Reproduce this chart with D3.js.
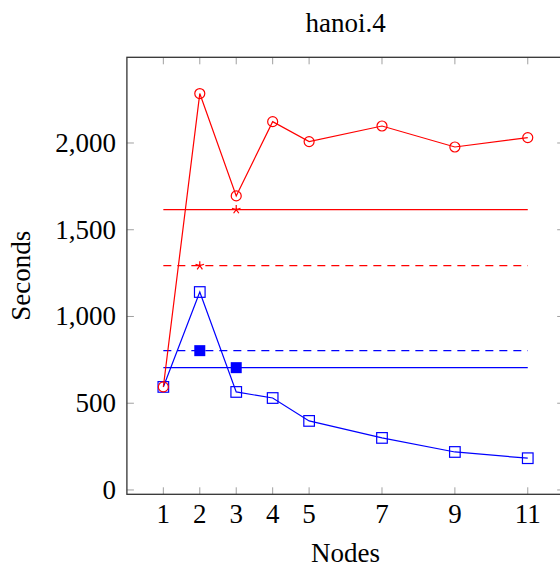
<!DOCTYPE html>
<html>
<head>
<meta charset="utf-8">
<script src="https://cdn.jsdelivr.net/npm/d3@7"></script>
<style>
  body { margin: 0; background: #fff; }
  svg { display: block; font-family: "Liberation Serif", "Times New Roman", serif; }
</style>
</head>
<body>
<div id="chart"></div>
<script>
// values
const nodes = [1, 2, 3, 4, 5, 7, 9, 11];
const redTimes = [594, 2285, 1695, 2123, 2008, 2098, 1977, 2031];
const blueTimes = [594, 1141, 565, 530, 398, 300, 219, 183];
const xTicks = [1, 2, 3, 4, 5, 7, 9, 11];
const yTicks = [0, 500, 1000, 1500, 2000];

// horizontal reference levels, each with one marker
const levels = [
  { value: 1616, color: "red", dashed: false, markX: 3, mark: "star" },
  { value: 1293, color: "red", dashed: true, markX: 2, mark: "star" },
  { value: 803, color: "blue", dashed: true, markX: 2, mark: "filled" },
  { value: 705, color: "blue", dashed: false, markX: 3, mark: "filled" }
];

const width = 560, height = 571;
const plotLeft = 126.9, plotRight = 564.2, plotTop = 57.3, plotBottom = 494.3;

const svg = d3.select("#chart").append("svg")
  .attr("width", width)
  .attr("height", height);

const x = d3.scaleLinear().domain([0, 12]).range([plotLeft, plotRight]);
const y = d3.scaleLinear().domain([-25, 2494]).range([plotBottom, plotTop]);

// ticks (drawn inward on all four sides)
const tickColor = "#a0a0a0";
const tickLen = 7;
const ticks = svg.append("g").attr("stroke", tickColor).attr("stroke-width", 1);
xTicks.forEach(function (t) {
  ticks.append("line").attr("x1", x(t)).attr("x2", x(t)).attr("y1", plotBottom).attr("y2", plotBottom - tickLen);
  ticks.append("line").attr("x1", x(t)).attr("x2", x(t)).attr("y1", plotTop).attr("y2", plotTop + tickLen);
});
yTicks.forEach(function (t) {
  ticks.append("line").attr("x1", plotLeft).attr("x2", plotLeft + tickLen).attr("y1", y(t)).attr("y2", y(t));
  ticks.append("line").attr("x1", plotRight).attr("x2", plotRight - tickLen).attr("y1", y(t)).attr("y2", y(t));
});

// axis box
svg.append("rect")
  .attr("x", plotLeft).attr("y", plotTop)
  .attr("width", plotRight - plotLeft).attr("height", plotBottom - plotTop)
  .attr("fill", "none").attr("stroke", "#333").attr("stroke-width", 1.3);

// tick labels
const fmt = d3.format(",");
svg.append("g").selectAll("text").data(xTicks).enter().append("text")
  .attr("x", d => x(d)).attr("y", 523)
  .attr("text-anchor", "middle").style("font-size", "27px")
  .text(d => d);
svg.append("g").selectAll("text").data(yTicks).enter().append("text")
  .attr("x", 116).attr("y", d => y(d) + 9)
  .attr("text-anchor", "end").style("font-size", "27px")
  .text(d => fmt(d));

// titles
svg.append("text").attr("x", (plotLeft + plotRight) / 2).attr("y", 32)
  .attr("text-anchor", "middle").style("font-size", "27px").text("hanoi.4");
svg.append("text").attr("x", (plotLeft + plotRight) / 2).attr("y", 562)
  .attr("text-anchor", "middle").style("font-size", "27px").text("Nodes");
svg.append("text")
  .attr("transform", "translate(30," + (plotTop + plotBottom) / 2 + ") rotate(-90)")
  .attr("text-anchor", "middle").style("font-size", "27px").text("Seconds");

// reference levels
const plot = svg.append("g");
levels.forEach(function (l) {
  plot.append("line")
    .attr("x1", x(nodes[0])).attr("x2", x(nodes[nodes.length - 1]))
    .attr("y1", y(l.value)).attr("y2", y(l.value))
    .attr("stroke", l.color).attr("stroke-width", 1.2)
    .attr("stroke-dasharray", l.dashed ? "8,6" : null);
});

const line = d3.line().x(d => x(d[0])).y(d => y(d[1]));

function drawSeries(values, color, marker) {
  const pts = nodes.map((n, i) => [n, values[i]]);
  plot.append("path").datum(pts)
    .attr("d", line).attr("fill", "none")
    .attr("stroke", color).attr("stroke-width", 1.2);
  const g = plot.append("g");
  if (marker === "circle") {
    g.selectAll("circle").data(pts).enter().append("circle")
      .attr("cx", d => x(d[0])).attr("cy", d => y(d[1])).attr("r", 5)
      .attr("fill", "none").attr("stroke", color).attr("stroke-width", 1.2);
  } else {
    g.selectAll("rect").data(pts).enter().append("rect")
      .attr("x", d => x(d[0]) - 5.3).attr("y", d => y(d[1]) - 5.3)
      .attr("width", 10.6).attr("height", 10.6)
      .attr("fill", "none").attr("stroke", color).attr("stroke-width", 1.2);
  }
}

drawSeries(blueTimes, "blue", "square");
drawSeries(redTimes, "red", "circle");

// level markers
levels.forEach(function (l) {
  const cx = x(l.markX), cy = y(l.value);
  if (l.mark === "filled") {
    plot.append("rect")
      .attr("x", cx - 5.5).attr("y", cy - 5.5)
      .attr("width", 11).attr("height", 11)
      .attr("fill", l.color);
  } else {
    const r = 4.5;
    let d = "";
    for (let k = 0; k < 5; k++) {
      const a = -Math.PI / 2 + k * 2 * Math.PI / 5;
      d += "M" + cx + "," + cy + "L" + (cx + r * Math.cos(a)) + "," + (cy + r * Math.sin(a));
    }
    plot.append("path").attr("d", d)
      .attr("stroke", l.color).attr("stroke-width", 1.2).attr("fill", "none");
  }
});
</script>
</body>
</html>
